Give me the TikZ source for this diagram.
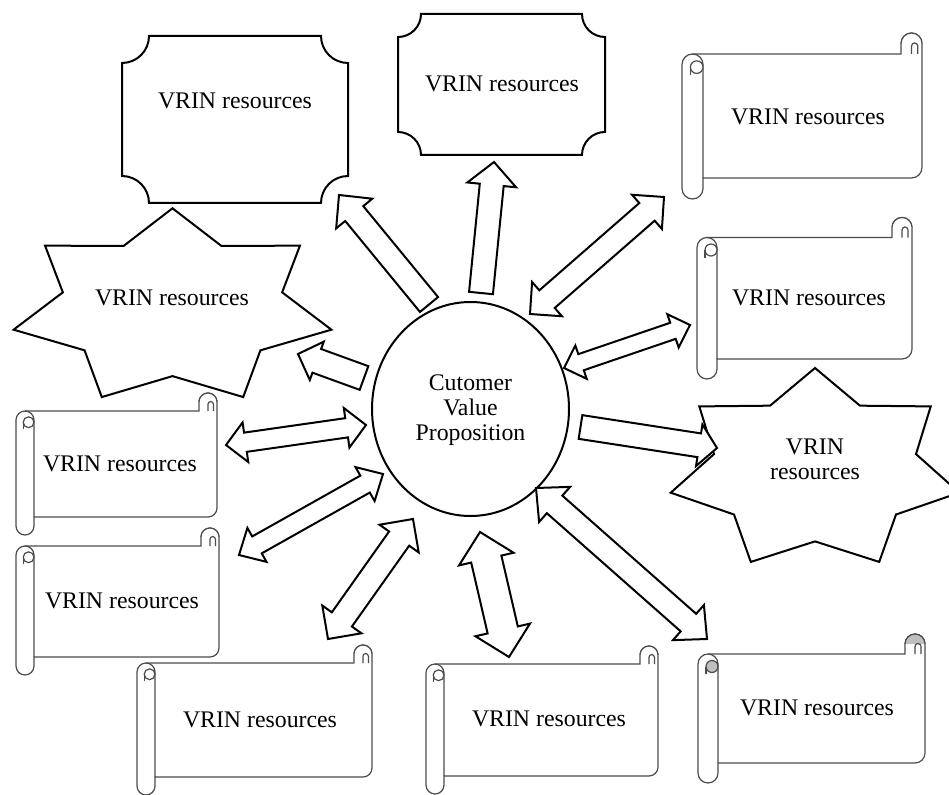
\documentclass[tikz,border=0pt]{standalone}
\usepackage{fontspec}
\setmainfont{Liberation Serif}
\usetikzlibrary{calc,shapes.geometric}
\tikzset{
  blk/.style={draw=black, line width=2pt, fill=white, line join=miter},
  scrollline/.style={draw=black!70, line width=1.2pt},
  plaque/.style={draw=black, line width=2pt, fill=white},
  starline/.style={draw=black, line width=2pt, fill=white, line join=miter},
  lbl/.style={font=\fontsize{23.8}{25}\selectfont, inner sep=0pt, align=center},
}
% single block arrow: base, tip, half shaft, half head, head length
\newcommand\sarrow[5]{%
  \draw[blk] ($(#1)!#3pt!90:(#2)$)
    -- ($(#2)!#5pt!(#1)!#3pt!-90:(#1)$)
    -- ($(#2)!#5pt!(#1)!#4pt!-90:(#1)$)
    -- (#2)
    -- ($(#2)!#5pt!(#1)!#4pt!90:(#1)$)
    -- ($(#2)!#5pt!(#1)!#3pt!90:(#1)$)
    -- ($(#1)!#3pt!-90:(#2)$)
    -- cycle;}
% double block arrow: tip, tip, half shaft, half head, head length
\newcommand\darrow[5]{%
  \draw[blk] (#1)
    -- ($(#1)!#5pt!(#2)!#4pt!90:(#2)$)
    -- ($(#1)!#5pt!(#2)!#3pt!90:(#2)$)
    -- ($(#2)!#5pt!(#1)!#3pt!-90:(#1)$)
    -- ($(#2)!#5pt!(#1)!#4pt!-90:(#1)$)
    -- (#2)
    -- ($(#2)!#5pt!(#1)!#4pt!90:(#1)$)
    -- ($(#2)!#5pt!(#1)!#3pt!90:(#1)$)
    -- ($(#1)!#5pt!(#2)!#3pt!-90:(#2)$)
    -- ($(#1)!#5pt!(#2)!#4pt!-90:(#2)$)
    -- cycle;}
% plaque: L T R B c
\newcommand\plaqueshape[5]{%
  \draw[plaque] ({#1+#5},#2) -- ({#3-#5},#2) arc[start angle=180,end angle=90,radius=#5]
    -- (#3,{#4-#5}) arc[start angle=270,end angle=180,radius=#5]
    -- ({#1+#5},#4) arc[start angle=0,end angle=-90,radius=#5]
    -- (#1,{#2+#5}) arc[start angle=90,end angle=0,radius=#5] -- cycle;}
% 7-point star: cx cy rx ry ratio
\newcommand\starshape[5]{%
  \draw[starline] (#1,{#2-#4})
    \foreach \k in {1,...,13}{ -- ({#1+(1-(1-#5)*mod(\k,2))*#3*cos(-90+\k*180/7)},{#2+(1-(1-#5)*mod(\k,2))*#4*sin(-90+\k*180/7)})}
    -- cycle;}
% scroll: [curl fill] L T R B d
\newcommand\scrollshape[6][white]{%
  \pgfmathsetmacro\sr{#6/2}%
  \draw[scrollline, fill=white] (#2,{#3+\sr}) arc[start angle=180,end angle=270,radius=\sr]
    -- ({#4-#6},#3) -- ({#4-#6},{#3-\sr}) arc[start angle=180,end angle=360,radius=\sr]
    -- (#4,{#5-\sr}) arc[start angle=0,end angle=90,radius=\sr]
    -- ({#2+#6},#5) -- ({#2+#6},{#5+\sr}) arc[start angle=0,end angle=180,radius=\sr] -- cycle;
  \filldraw[scrollline, fill=#1] ({#4-#6},{#3-\sr}) arc[start angle=180,end angle=360,radius=\sr];
  \draw[scrollline] ({#2+#6},#5) -- ({#2+#6},{#3+\sr}) arc[start angle=0,end angle=-90,radius=\sr];
  \draw[scrollline] ({#4-\sr},#3) -- ({#4-\sr},{#3-0.75*\sr}) arc[start angle=180,end angle=360,radius={0.3*\sr}] -- ({#4-0.4*\sr},#3);
  \draw[scrollline, fill=#1] ({#2+1.4*\sr},{#3+1.25*\sr}) circle[radius={0.6*\sr}];
  \draw[scrollline] ({#2+0.8*\sr},{#3+1.25*\sr}) -- ({#2+0.8*\sr},{#3+2*\sr});
}
\begin{document}
\begin{tikzpicture}[x=1pt,y=-1pt]
\clip (0,0) rectangle (949,794);
\fill[white] (0,0) rectangle (949,794);
% plaques
\plaqueshape{122}{36}{348}{203}{27}
\plaqueshape{398}{14}{605}{155}{23}
% stars
\starshape{172.5}{307.6}{163}{99.3}{0.69}
\starshape{815}{470}{148}{102}{0.70}
% scrolls
\scrollshape{682}{54}{922}{178}{21}
\scrollshape{697}{237.5}{912}{359}{20}
\scrollshape{16}{411}{217}{517}{18}
\scrollshape{16}{546}{219}{657}{18}
\scrollshape{137}{663}{372}{777}{18}
\scrollshape{426}{664}{658}{776}{18}
\scrollshape[black!25]{698}{654}{925}{763}{20}
% centre
\node[draw, line width=2pt, ellipse, minimum width=197pt, minimum height=214pt, inner sep=0pt, fill=white] (cvp) at (470.5,409) {};
% arrow end points
\coordinate (a1b) at (429,304.5); \coordinate (a1t) at (339,195);
\coordinate (a2b) at (481,293);   \coordinate (a2t) at (494,162);
\coordinate (a3p) at (530,314);   \coordinate (a3q) at (664,197);
\coordinate (a4p) at (564,368);   \coordinate (a4q) at (690,325);
\coordinate (a5b) at (580.5,427); \coordinate (a5t) at (717,448);
\coordinate (a6p) at (536,488);   \coordinate (a6q) at (707,639);
\coordinate (a7p) at (480,532);   \coordinate (a7q) at (509,657);
\coordinate (a8p) at (413,519);   \coordinate (a8q) at (328,639);
\coordinate (a9p) at (383,474);   \coordinate (a9q) at (239,555);
\coordinate (a10p) at (366,425);  \coordinate (a10q) at (226,445);
\coordinate (a11b) at (364,378);  \coordinate (a11t) at (298,354);
% arrows
\sarrow{a1b}{a1t}{11.7}{23.4}{24}
\sarrow{a2b}{a2t}{12}{24.5}{23}
\darrow{a3p}{a3q}{11.7}{22.7}{22.6}
\darrow{a4p}{a4q}{8.5}{17.6}{18}
\sarrow{a5b}{a5t}{12}{21}{18}
\darrow{a6p}{a6q}{11.7}{23.4}{24.8}
\darrow{a7p}{a7q}{15.5}{28}{27.8}
\darrow{a8p}{a8q}{12.3}{24}{24}
\darrow{a9p}{a9q}{9.7}{19.5}{20.6}
\darrow{a10p}{a10q}{9.7}{20}{19.6}
\sarrow{a11b}{a11t}{12.6}{20.4}{20}
% texts
\node[lbl, anchor=north] (cvpt) at (470.5,374.9) {Cutomer\\Value\\Proposition};
\node[lbl, anchor=base] (t1) at (235,109) {VRIN resources};
\node[lbl, anchor=base] (t2) at (502,92) {VRIN resources};
\node[lbl, anchor=base] (t3) at (172,305) {VRIN resources};
\node[lbl, anchor=north] (t4) at (815,438.4) {VRIN\\resources};
\node[lbl, anchor=base] (t5) at (808,125) {VRIN resources};
\node[lbl, anchor=base] (t6) at (809,305) {VRIN resources};
\node[lbl, anchor=base] (t7) at (120,471) {VRIN resources};
\node[lbl, anchor=base] (t8) at (122,608) {VRIN resources};
\node[lbl, anchor=base] (t9) at (260,727) {VRIN resources};
\node[lbl, anchor=base] (t10) at (549,726) {VRIN resources};
\node[lbl, anchor=base] (t11) at (817,715) {VRIN resources};
\end{tikzpicture}
\end{document}
